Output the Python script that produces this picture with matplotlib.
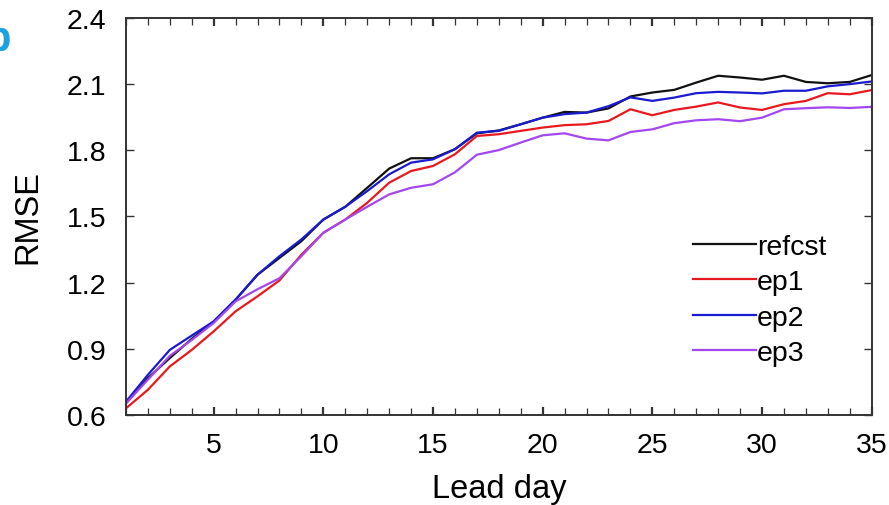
import matplotlib
matplotlib.use("Agg")
import matplotlib.pyplot as plt
from matplotlib.ticker import MultipleLocator

plt.rcParams['font.family'] = ['Liberation Sans', 'DejaVu Sans']

days = list(range(1, 36))
refcst = [0.653, 0.767, 0.858, 0.945, 1.024, 1.123, 1.236, 1.312, 1.388, 1.486,
          1.544, 1.630, 1.717, 1.764, 1.764, 1.805, 1.877, 1.890, 1.918, 1.948,
          1.974, 1.971, 1.990, 2.044, 2.062, 2.074, 2.107, 2.138, 2.130, 2.120,
          2.138, 2.110, 2.104, 2.110, 2.141]
ep1 = [0.630, 0.714, 0.820, 0.895, 0.979, 1.070, 1.138, 1.210, 1.327, 1.426,
       1.486, 1.562, 1.653, 1.706, 1.729, 1.782, 1.865, 1.873, 1.888, 1.903,
       1.914, 1.918, 1.933, 1.986, 1.959, 1.983, 1.998, 2.017, 1.994, 1.983,
       2.009, 2.024, 2.059, 2.054, 2.073]
ep2 = [0.660, 0.782, 0.895, 0.960, 1.024, 1.123, 1.236, 1.320, 1.396, 1.486,
       1.544, 1.615, 1.691, 1.744, 1.759, 1.805, 1.880, 1.888, 1.918, 1.948,
       1.964, 1.971, 2.000, 2.040, 2.024, 2.039, 2.059, 2.065, 2.062, 2.058,
       2.070, 2.070, 2.090, 2.100, 2.112]
ep3 = [0.652, 0.760, 0.868, 0.940, 1.017, 1.115, 1.170, 1.220, 1.320, 1.426,
       1.486, 1.544, 1.600, 1.630, 1.646, 1.700, 1.780, 1.801, 1.835, 1.868,
       1.877, 1.853, 1.845, 1.883, 1.895, 1.923, 1.936, 1.941, 1.932, 1.948,
       1.986, 1.991, 1.995, 1.992, 1.997]
series = [("refcst", refcst, "#111111"), ("ep1", ep1, "#e8191e"),
          ("ep2", ep2, "#1a1ad0"), ("ep3", ep3, "#a347f0")]
yticks = [0.6, 0.9, 1.2, 1.5, 1.8, 2.1, 2.4]
xticks = [5, 10, 15, 20, 25, 30, 35]

fig = plt.figure(figsize=(8.89, 5.06), dpi=100)
ax = fig.add_axes([0.1417, 0.178, 0.8388, 0.7845])
for name, vals, col in series:
    ax.plot(days, vals, color=col, lw=1.6, label=name)

ax.set_xlim(1, 35)
ax.set_ylim(0.6, 2.4)
ax.set_xticks(xticks)
ax.xaxis.set_minor_locator(MultipleLocator(1))
ax.set_yticks(yticks)
ax.set_yticklabels([f"{v:.1f}" for v in yticks])
ax.tick_params(axis='both', which='both', direction='in', top=True, right=True,
               labelsize=20.5, color='#333333')
ax.tick_params(axis='x', which='major', length=6, width=1.6, pad=12)
ax.tick_params(axis='x', which='minor', length=5, width=0.9)
ax.tick_params(axis='y', which='major', length=6, width=1.0, pad=14)
for s in ax.spines.values():
    s.set_linewidth(1.4)
    s.set_color('#333333')

ax.set_xlabel("Lead day", fontsize=23.5, labelpad=11)
ax.set_ylabel("RMSE", fontsize=23.5, labelpad=17)

leg = ax.legend(loc='upper left', bbox_to_anchor=(0.745, 0.485), frameon=False,
                fontsize=20.5, handlelength=2.2, handletextpad=0.05,
                labelspacing=0.33, borderaxespad=0)

fig.text(0.012, 0.92, "b", color='#1ba1e2', fontsize=30, fontweight='bold',
         ha='right', va='center')

fig.savefig("out.png", dpi=100)
